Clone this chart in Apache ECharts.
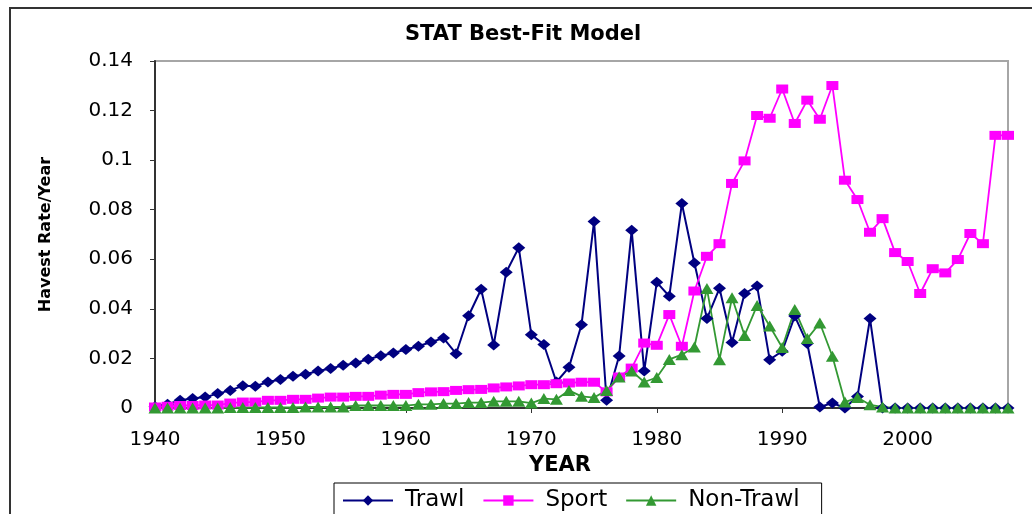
<!DOCTYPE html>
<html>
<head>
<meta charset="utf-8">
<script src="https://cdn.jsdelivr.net/npm/echarts@6/dist/echarts.min.js"></script>
<style>
  html, body { margin: 0; padding: 0; background: #fff; }
  #StatChart { width: 1032px; height: 514px; }
</style>
</head>
<body>
<div id="StatChart"></div>
<script>
// years on the x axis
const years = [
  1940, 1941, 1942, 1943, 1944, 1945, 1946, 1947, 1948, 1949,
  1950, 1951, 1952, 1953, 1954, 1955, 1956, 1957, 1958, 1959,
  1960, 1961, 1962, 1963, 1964, 1965, 1966, 1967, 1968, 1969,
  1970, 1971, 1972, 1973, 1974, 1975, 1976, 1977, 1978, 1979,
  1980, 1981, 1982, 1983, 1984, 1985, 1986, 1987, 1988, 1989,
  1990, 1991, 1992, 1993, 1994, 1995, 1996, 1997, 1998, 1999,
  2000, 2001, 2002, 2003, 2004, 2005, 2006, 2007, 2008,
];

const trawl = [
  0.0005, 0.0015, 0.0031, 0.0038, 0.0044, 0.0058, 0.0071, 0.0090, 0.0088, 0.0105,
  0.0115, 0.0128, 0.0136, 0.0149, 0.0159, 0.0172, 0.0182, 0.0197, 0.0211, 0.0222,
  0.0236, 0.0249, 0.0266, 0.0282, 0.0219, 0.0372, 0.0479, 0.0254, 0.0548, 0.0647,
  0.0296, 0.0256, 0.0105, 0.0164, 0.0336, 0.0752, 0.0031, 0.0210, 0.0717, 0.0149,
  0.0507, 0.0451, 0.0825, 0.0585, 0.0361, 0.0483, 0.0264, 0.0462, 0.0492, 0.0195,
  0.0229, 0.0371, 0.0260, 0.0004, 0.0020, 0.0000, 0.0046, 0.0361, 0.0000, 0.0000,
  0.0000, 0.0000, 0.0000, 0.0000, 0.0000, 0.0000, 0.0000, 0.0000, 0.0000,
];

const sport = [
  0.0004, 0.0007, 0.0010, 0.0010, 0.0012, 0.0012, 0.0020, 0.0024, 0.0024, 0.0031,
  0.0031, 0.0035, 0.0035, 0.0040, 0.0044, 0.0044, 0.0047, 0.0047, 0.0052, 0.0055,
  0.0055, 0.0062, 0.0065, 0.0066, 0.0071, 0.0074, 0.0075, 0.0081, 0.0085, 0.0089,
  0.0094, 0.0094, 0.0098, 0.0101, 0.0104, 0.0104, 0.0065, 0.0125, 0.0161, 0.0262,
  0.0253, 0.0377, 0.0249, 0.0472, 0.0612, 0.0663, 0.0906, 0.0997, 0.1180, 0.1169,
  0.1287, 0.1148, 0.1242, 0.1165, 0.1301, 0.0919, 0.0841, 0.0709, 0.0764, 0.0627,
  0.0591, 0.0462, 0.0562, 0.0545, 0.0599, 0.0704, 0.0663, 0.1100, 0.1100,
];

const nonTrawl = [
  0.0000, 0.0000, 0.0000, 0.0000, 0.0000, 0.0000, 0.0002, 0.0002, 0.0002, 0.0002,
  0.0002, 0.0002, 0.0004, 0.0004, 0.0004, 0.0004, 0.0010, 0.0010, 0.0010, 0.0010,
  0.0010, 0.0015, 0.0015, 0.0018, 0.0018, 0.0022, 0.0022, 0.0027, 0.0027, 0.0027,
  0.0020, 0.0038, 0.0035, 0.0071, 0.0047, 0.0042, 0.0071, 0.0125, 0.0149, 0.0105,
  0.0123, 0.0196, 0.0215, 0.0246, 0.0482, 0.0195, 0.0445, 0.0293, 0.0414, 0.0331,
  0.0244, 0.0397, 0.0280, 0.0343, 0.0209, 0.0024, 0.0042, 0.0013, 0.0004, 0.0000,
  0.0000, 0.0000, 0.0000, 0.0000, 0.0000, 0.0000, 0.0000, 0.0000, 0.0000,
];

const FONT = "DejaVu Sans";

function pairs(values) {
  return years.map((yr, i) => [yr, values[i]]);
}

const chart = echarts.init(document.getElementById("StatChart"));

chart.setOption({
  animation: false,
  backgroundColor: "#fff",
  graphic: [
    {
      type: "rect",
      shape: { x: 10, y: 8, width: 1100, height: 600 },
      style: { fill: "none", stroke: "#333", lineWidth: 2 },
      silent: true,
    },
  ],
  title: {
    text: "STAT Best-Fit Model",
    left: 405,
    top: 24,
    padding: 0,
    textStyle: { fontFamily: FONT, fontSize: 21, fontWeight: "bold", color: "#000" },
  },
  legend: {
    left: 334,
    top: 483,
    padding: [6, 22, 20, 8],
    itemGap: 18,
    itemWidth: 50,
    itemHeight: 13,
    borderColor: "#000",
    borderWidth: 1,
    textStyle: { fontFamily: FONT, fontSize: 23, color: "#000", padding: [0, 0, 0, 7] },
    data: ["Trawl", "Sport", "Non-Trawl"],
  },
  grid: {
    left: 155,
    top: 61,
    right: 24,
    bottom: 106,
    show: true,
    borderColor: "#a6a6a6",
    borderWidth: 2,
  },
  xAxis: {
    type: "value",
    min: 1940,
    max: 2008,
    interval: 10,
    name: "YEAR",
    nameLocation: "middle",
    nameGap: 44,
    nameTextStyle: {
      fontFamily: FONT, fontSize: 21, fontWeight: "bold", color: "#000",
      padding: [0, 43, 0, 0],
    },
    axisLine: { lineStyle: { color: "#333", width: 2 } },
    axisTick: { length: 5, lineStyle: { color: "#333" } },
    axisLabel: {
      fontFamily: FONT, fontSize: 20, color: "#000", margin: 22,
      showMaxLabel: false,
      formatter: (value) => String(value),
    },
    splitLine: { show: false },
  },
  yAxis: {
    type: "value",
    min: 0,
    max: 0.14,
    interval: 0.02,
    name: "Havest Rate/Year",
    nameLocation: "middle",
    nameRotate: 90,
    nameGap: 101,
    nameTextStyle: { fontFamily: FONT, fontSize: 16, fontWeight: "bold", color: "#000" },
    axisLine: { show: true, lineStyle: { color: "#333", width: 2 } },
    axisTick: { show: true, length: 5, lineStyle: { color: "#333" } },
    axisLabel: { fontFamily: FONT, fontSize: 20, color: "#000", margin: 22 },
    splitLine: { show: false },
  },
  series: [
    {
      name: "Trawl",
      type: "line",
      data: pairs(trawl),
      symbol: "diamond",
      symbolSize: [13, 11],
      color: "#000080",
      lineStyle: { color: "#000080", width: 2 },
      itemStyle: { color: "#000080" },
    },
    {
      name: "Sport",
      type: "line",
      data: pairs(sport),
      symbol: "rect",
      symbolSize: [12, 9],
      color: "#ff00ff",
      lineStyle: { color: "#ff00ff", width: 1.8 },
      itemStyle: { color: "#ff00ff" },
    },
    {
      name: "Non-Trawl",
      type: "line",
      data: pairs(nonTrawl),
      symbol: "triangle",
      symbolSize: [13, 11],
      color: "#339933",
      lineStyle: { color: "#339933", width: 1.8 },
      itemStyle: { color: "#339933" },
    },
  ],
});
</script>
</body>
</html>
